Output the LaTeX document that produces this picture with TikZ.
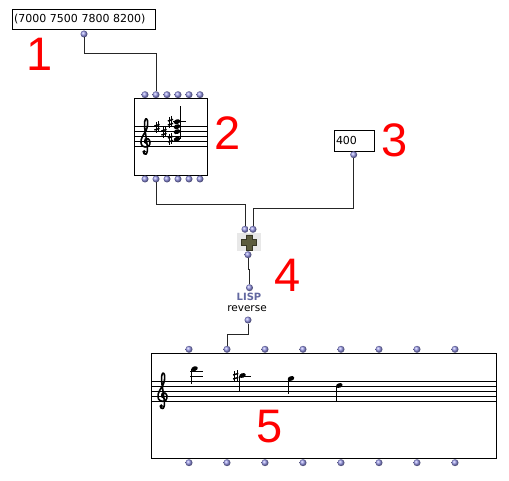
\documentclass[tikz,border=0pt]{standalone}
\usepackage{fontspec}
\setmainfont{DejaVu Sans}
\newfontfamily\bignum{Liberation Sans}
\definecolor{dotblue}{RGB}{150,150,232}
\definecolor{lispblue}{RGB}{98,104,160}
\definecolor{plusgreen}{RGB}{92,92,62}

\tikzset{
  patchbox/.style={draw=black, line width=0.9pt, rectangle, inner sep=0pt, outer sep=0pt, anchor=north west},
  port/.style={circle, shading=ball, ball color=dotblue, minimum size=7pt, inner sep=0pt, outer sep=0pt},
  wire/.style={draw=black!85, line width=0.8pt},
  bignumber/.style={text=red, font=\bignum\fontsize{47}{47}\selectfont, inner sep=0pt},
  staffline/.style={line width=0.75pt},
  gclef/.pic={
    \draw[line width=1.6pt, line join=round, line cap=round]
      plot[smooth, tension=0.55] coordinates {(0.5,1.5) (-1.3,0.5) (-0.8,-2.5) (2,-3) (4,0) (3,4) (-1,5.3)
        (-4.5,3) (-4.8,-2) (-2.5,-7) (0,-11) (1.5,-16) (1.5,-21) (0,-23) (-1.3,-20) (-1.3,-14) (0,-5)
        (1.3,5) (1.3,9.5) (0,12.5) (-2,12) (-2.5,10)};
    \fill (-1.8,10) circle (1.8pt);
  },
  sharpsign/.pic={
    \draw[line width=0.6pt] (-1.1,-5) -- (-1.1,6) (1.2,-6) -- (1.2,5);
    \draw[line width=1.4pt] (-2.6,-1) -- (2.6,-2.6) (-2.6,3) -- (2.6,1.4);
  },
  notehead/.pic={
    \fill[rotate=20] (0,0) ellipse [x radius=3.4pt, y radius=2.3pt];
  },
  notedown/.pic={
    \fill[rotate=20] (0,0) ellipse [x radius=3.4pt, y radius=2.3pt];
    \draw[line width=0.7pt] (-3.1,0.5) -- (-3.1,15.5);
  }
}

\begin{document}
\begin{tikzpicture}[x=1pt, y=-1pt]
\useasboundingbox (0,0) rectangle (509,481);

% boxes
\node[patchbox, minimum height=20pt, text width=139pt, align=left, inner xsep=2pt,
      font=\fontsize{11}{13}\selectfont] (p1) at (12,9.5) {(7000 7500 7800 8200)};
\node[patchbox, minimum width=73pt, minimum height=77pt] (p2) at (134,98) {};
\node[patchbox, minimum height=21pt, text width=36pt, align=left, inner xsep=2pt,
      font=\fontsize{11}{13}\selectfont] (p3) at (334,130) {400};
\node[rectangle, fill=black!9, minimum width=24pt, minimum height=18pt, inner sep=0pt] (plus) at (249,242) {};
\node[font=\bfseries\fontsize{10}{10}\selectfont, text=lispblue, inner sep=0pt] (lisp) at (249,296.5) {LISP};
\node[font=\fontsize{10.5}{11}\selectfont, inner sep=0pt] (rev) at (247,309) {reverse};
\node[patchbox, minimum width=345pt, minimum height=105pt] (p5) at (151,353) {};

% plus icon
\begin{scope}[shift={(plus.center)}]
\fill[plusgreen, draw=plusgreen!60!black, line width=0.5pt]
  (-3,-7) -- (3.5,-7) -- (3.5,-2.5) -- (7.5,-2.5) -- (7.5,3) -- (3.5,3) -- (3.5,8)
  -- (-3,8) -- (-3,3) -- (-8,3) -- (-8,-2.5) -- (-3,-2.5) -- cycle;
\end{scope}

% ports
\node[port] (p1out) at (84,34) {};
\foreach \k in {1,...,6} {
  \node[port] (p2in\k) at ({134+11*\k},94.7) {};
  \node[port] (p2out\k) at ({134+11*\k},179) {};
}
\node[port] (p3out) at (353.7,154.7) {};
\node[port] (plusin1) at (245,229.3) {};
\node[port] (plusin2) at (253,229.3) {};
\node[port] (plusout) at (248,254.7) {};
\node[port] (lispin) at (249.5,287.7) {};
\node[port] (lispout) at (248,320) {};
\foreach \k in {1,...,8} {
  \node[port] (p5in\k) at ({151+38*\k},349.3) {};
  \node[port] (p5out\k) at ({151+38*\k},462.7) {};
}

% wires
\draw[wire] (p1out) -- ++(0,19) -| (p2in2);
\draw[wire] (p2out2) -- ++(0,25) -| (plusin1);
\draw[wire] (p3out) -- ++(0,54) -| (plusin2);
\draw[wire] (plusout) -- ++(0,15) -| (lispin);
\draw[wire] (lispout) -- ++(0,14) -| (p5in2);

% staff of the chord
\foreach \y in {126.7,131.7,136.7,141.7,146.7}
  \draw[staffline] (p2.west |- 0,\y) -- (p2.east |- 0,\y);
\pic at (146,141.7) {gclef};
\pic at (157,127) {sharpsign};
\pic at (164,132) {sharpsign};
\pic at (170.5,122) {sharpsign};
\pic at (170.5,139) {sharpsign};
\draw[line width=0.8pt] (173,121.7) -- (185.5,121.7);
\foreach \y in {121.7,126.7,131.7,139.2}
  \pic at (177,\y) {notehead};
\draw[line width=0.8pt] (180.2,139) -- (180.2,106);

% staff of the sequence
\foreach \y in {381,386,391,396,401}
  \draw[staffline] (p5.west |- 0,\y) -- (p5.east |- 0,\y);
\pic at (163,396) {gclef};
\draw[line width=0.8pt] (190,371) -- (202.7,371) (190,376) -- (202.7,376) (238.7,376) -- (250.7,376);
\pic at (194.5,368.7) {notedown};
\pic at (235.7,376) {sharpsign};
\pic at (242.5,375.5) {notedown};
\pic at (291,378.5) {notedown};
\pic at (339.3,385.5) {notedown};

% numbers
\node[bignumber] (n1) at (40,54) {1};
\node[bignumber] (n2) at (228,133) {2};
\node[bignumber] (n3) at (395,140.5) {3};
\node[bignumber] (n4) at (288,275) {4};
\node[bignumber] (n5) at (270,427) {5};
\end{tikzpicture}
\end{document}
